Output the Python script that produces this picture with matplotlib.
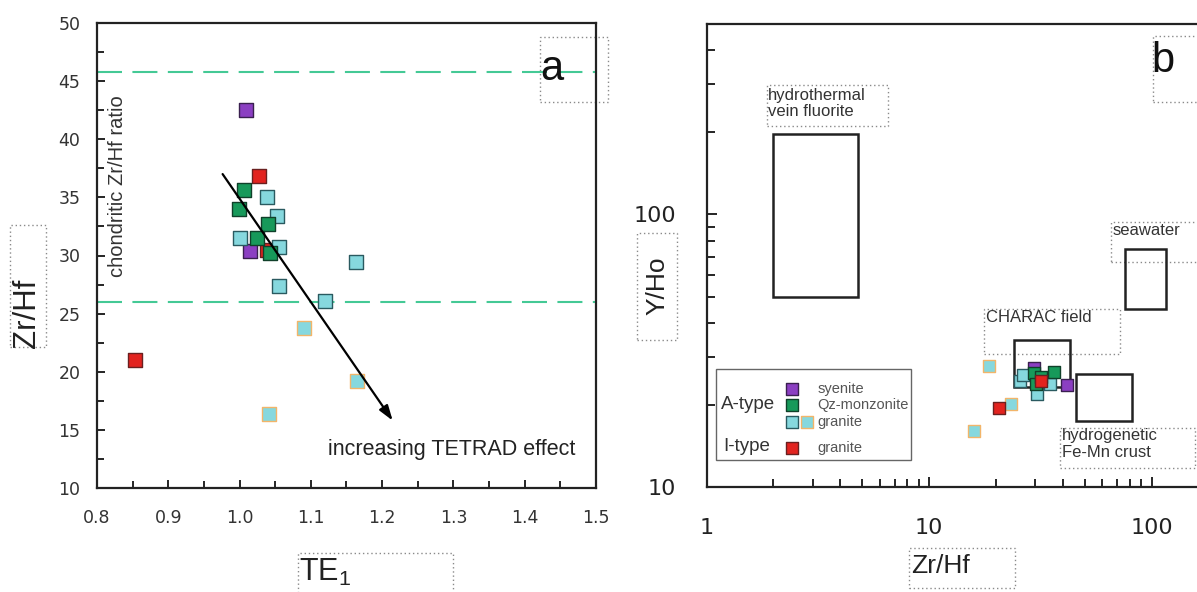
import matplotlib.pyplot as plt
from matplotlib.patches import Rectangle

# ---- panel a data: TE1 vs Zr/Hf ----
te_syenite = [1.009, 1.014]
zrhf_syenite_a = [42.5, 30.4]
te_qzmonz = [1.006, 0.999, 1.040, 1.024, 1.042]
zrhf_qzmonz_a = [35.6, 34.0, 32.7, 31.5, 30.2]
te_granite = [1.038, 1.052, 1.000, 1.056, 1.055, 1.163, 1.120]
zrhf_granite_a = [35.0, 33.4, 31.5, 30.7, 27.4, 29.4, 26.1]
te_granite2 = [1.090, 1.165, 1.041]
zrhf_granite2_a = [23.8, 19.2, 16.4]
te_itype = [1.027, 0.854, 1.038]
zrhf_itype_a = [36.8, 21.0, 30.5]
chondritic_lines = [45.8, 26.0]
arrow_start = (0.974, 37.2)
arrow_end = (1.217, 15.6)

# ---- panel b data: Zr/Hf vs Y/Ho ----
zrhf_syenite_b = [29.5, 41.7]
yho_syenite = [27.3, 23.7]
zrhf_qzmonz_b = [29.5, 36.4, 30.3, 31.9]
yho_qzmonz = [26.1, 26.4, 23.9, 25.3]
zrhf_granite_b = [25.7, 26.4, 30.5, 34.8]
yho_granite = [24.5, 25.7, 22.0, 23.9]
zrhf_granite2_b = [18.7, 23.4, 16.0]
yho_granite2 = [27.7, 20.1, 16.0]
zrhf_itype_b = [20.6, 31.9]
yho_itype = [19.5, 24.5]

# fields (Zr/Hf range, Y/Ho range)
fields = {
    'hydrothermal': ((2.0, 4.8), (50, 197)),
    'seawater': ((76, 116), (45, 75)),
    'CHARAC': ((24, 43), (23.3, 34.7)),
    'FeMn': ((46, 82), (17.5, 26)),
}

purple = '#8b3fc2'
green = '#17995a'
cyan = '#86d8de'
red = '#e2231f'
orange = '#f2b56a'
dash_col = '#44c995'
box_col = '#8a8a8a'

plt.rcParams['font.family'] = ['Liberation Sans', 'DejaVu Sans']
W, H = 1197, 592
fig = plt.figure(figsize=(W / 100, H / 100), dpi=100)


def fig_box(x0, y0, x1, y1):
    # dotted box given in pixels from the top-left corner
    fig.patches.append(Rectangle((x0 / W, 1 - y1 / H), (x1 - x0) / W, (y1 - y0) / H,
                                 transform=fig.transFigure, fill=False,
                                 ec=box_col, ls=(0, (1, 2)), lw=1.0))


def ax_box(ax, x0, x1, y0, y1):
    ax.add_patch(Rectangle((x0, y0), x1 - x0, y1 - y0, fill=False, ec=box_col,
                           ls=(0, (1, 2)), lw=1.0, clip_on=False, zorder=1))


# ================= panel a =================
ax1 = fig.add_axes([97 / W, 1 - 488 / H, 499 / W, 465 / H])
ax1.set_xlim(0.8, 1.5)
ax1.set_ylim(10, 50)
ax1.set_xticks([0.8, 0.9, 1.0, 1.1, 1.2, 1.3, 1.4, 1.5])
ax1.set_xticks([0.85, 0.95, 1.05, 1.15, 1.25, 1.35, 1.45], minor=True)
ax1.set_yticks(range(10, 51, 5))
ax1.set_yticks([12.5, 17.5, 22.5, 27.5, 32.5, 37.5, 42.5, 47.5], minor=True)
ax1.set_xticklabels(['0.8', '0.9', '1.0', '1.1', '1.2', '1.3', '1.4', '1.5'])
ax1.tick_params(which='both', direction='in', width=1.2, labelsize=12.5,
                labelcolor='#333333')
ax1.tick_params(which='major', length=6)
ax1.tick_params(which='minor', length=5)
ax1.tick_params(axis='x', pad=15)
ax1.tick_params(axis='y', pad=12)
for lab in ax1.get_xticklabels() + ax1.get_yticklabels():
    lab.set_family('DejaVu Sans')
for s in ax1.spines.values():
    s.set_linewidth(1.6)
    s.set_color('#222222')

for y in chondritic_lines:
    ax1.axhline(y, color=dash_col, lw=1.5, ls=(0, (12, 5)), zorder=1)

sq = dict(marker='s', s=95, linewidths=1.0, zorder=3)
ax1.scatter(te_itype, zrhf_itype_a, c=red, edgecolors='#6a2020', **sq)
ax1.scatter(te_syenite, zrhf_syenite_a, c=purple, edgecolors='#3a2050', **sq)
ax1.scatter(te_granite2, zrhf_granite2_a, c=cyan, edgecolors=orange, **sq)
ax1.scatter(te_granite, zrhf_granite_a, c=cyan, edgecolors='#2a5a60', **sq)
ax1.scatter(te_qzmonz, zrhf_qzmonz_a, c=green, edgecolors='#10402a', **sq)

ax1.annotate('', xy=arrow_end, xytext=arrow_start,
             arrowprops=dict(arrowstyle='-|>,head_length=0.9,head_width=0.3',
                             color='black', lw=1.6), zorder=4)
ax1.text(0.829, 36.0, 'chondritic Zr/Hf ratio', rotation=90, ha='center',
         va='center', fontsize=14.5, color='#333333')
ax1.text(1.124, 13.3, 'increasing TETRAD effect', ha='left', va='center',
         fontsize=15.5, color='#222222')
ax1.text(1.422, 46.0, 'a', fontsize=30, ha='left', va='center', color='#111111')
ax_box(ax1, 1.421, 1.517, 43.2, 48.8)

fig.text(27 / W, 1 - 313 / H, 'Zr/Hf', rotation=90, ha='center', va='center',
         fontsize=22.5, color='#222222')
fig_box(10, 225, 46, 347)
fig.text(299 / W, 1 - 572 / H, 'TE$_\\mathregular{1}$', ha='left', va='center',
         fontsize=22, color='#222222')
fig_box(298, 553, 453, 600)

# ================= panel b =================
ax2 = fig.add_axes([706.5 / W, 1 - 487 / H, 512 / W, 463 / H])
ax2.set_xscale('log')
ax2.set_yscale('log')
ax2.set_xlim(1, 200)
ax2.set_ylim(10, 500)
ax2.set_xticks([1, 10, 100])
ax2.set_xticklabels(['1', '10', '100'])
ax2.set_yticks([10, 100])
ax2.set_yticklabels(['10', '100'])
ax2.tick_params(which='both', direction='in', width=1.2, labelsize=16,
                labelcolor='#222222')
ax2.tick_params(which='major', length=7)
ax2.tick_params(which='minor', length=6)
ax2.tick_params(axis='x', pad=22)
ax2.tick_params(axis='y', pad=22)
ax2.minorticks_on()
ax2.yaxis.set_minor_formatter(plt.NullFormatter())
ax2.xaxis.set_minor_formatter(plt.NullFormatter())
for lab in ax2.get_xticklabels() + ax2.get_yticklabels():
    lab.set_family('DejaVu Sans')
for s in ax2.spines.values():
    s.set_linewidth(1.6)
    s.set_color('#222222')

for (x0, x1), (y0, y1) in fields.values():
    ax2.add_patch(Rectangle((x0, y0), x1 - x0, y1 - y0, fill=False, ec='#222222',
                            lw=1.8, zorder=2))

sq2 = dict(marker='s', s=72, linewidths=1.0, zorder=3)
ax2.scatter(zrhf_granite2_b, yho_granite2, c=cyan, edgecolors=orange, **sq2)
ax2.scatter(zrhf_syenite_b, yho_syenite, c=purple, edgecolors='#3a2050', **sq2)
ax2.scatter(zrhf_granite_b, yho_granite, c=cyan, edgecolors='#2a5a60', **sq2)
ax2.scatter(zrhf_qzmonz_b, yho_qzmonz, c=green, edgecolors='#10402a', **sq2)
ax2.scatter(zrhf_itype_b, yho_itype, c=red, edgecolors='#6a2020', **sq2)

lab_kw = dict(fontsize=12, color='#333333', ha='left', va='top', linespacing=1.15)
ax2.text(1.88, 292, 'hydrothermal\nvein fluorite', **lab_kw)
ax_box(ax2, 1.87, 6.54, 212, 298)
ax2.text(67, 93, 'seawater', **lab_kw)
ax_box(ax2, 65.8, 260, 67, 94)
ax2.text(18.0, 44.5, 'CHARAC field', **lab_kw)
ax_box(ax2, 17.7, 72, 30.8, 45)
ax2.text(39.5, 16.4, 'hydrogenetic\nFe-Mn crust', **lab_kw)
ax_box(ax2, 38.8, 157, 11.7, 16.5)
ax2.text(100, 365, 'b', fontsize=30, ha='left', va='center', color='#111111')
ax_box(ax2, 102, 260, 258, 452)

# legend drawn by hand
ax2.add_patch(Rectangle((1.10, 12.6), 8.3 - 1.10, 27.2 - 12.6, fill=False,
                        ec='#666666', lw=1.0, zorder=2))
leg_x = 2.43
leg = dict(marker='s', s=72, linewidths=1.0, zorder=3, clip_on=False)
ax2.scatter([leg_x], [22.9], c=purple, edgecolors='#3a2050', **leg)
ax2.scatter([leg_x], [20.0], c=green, edgecolors='#10402a', **leg)
ax2.scatter([leg_x], [17.3], c=cyan, edgecolors='#2a5a60', **leg)
ax2.scatter([2.83], [17.3], c=cyan, edgecolors=orange, **leg)
ax2.scatter([leg_x], [13.9], c=red, edgecolors='#6a2020', **leg)
tk = dict(fontsize=10.5, color='#555555', ha='left', va='center')
ax2.text(3.15, 22.9, 'syenite', **tk)
ax2.text(3.15, 20.0, 'Qz-monzonite', **tk)
ax2.text(3.15, 17.3, 'granite', **tk)
ax2.text(3.15, 13.9, 'granite', **tk)
ax2.text(1.16, 20.1, 'A-type', fontsize=13.5, color='#333333', ha='left', va='center')
ax2.text(1.19, 14.1, 'I-type', fontsize=13.5, color='#333333', ha='left', va='center')

fig.text(657 / W, 1 - 286 / H, 'Y/Ho', rotation=90, ha='center', va='center',
         fontsize=19, color='#222222')
fig_box(637, 233, 677, 340)
fig.text(911 / W, 1 - 566 / H, 'Zr/Hf', ha='left', va='center', fontsize=19,
         color='#222222')
fig_box(909, 548, 1015, 588)

fig.savefig('out.png', dpi=100)
